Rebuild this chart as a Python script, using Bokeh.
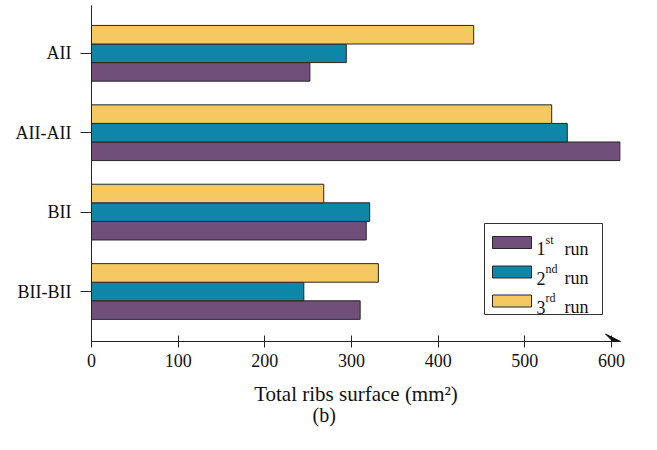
from bokeh.plotting import figure
from bokeh.models import FixedTicker, Range1d, Label, VeeHead, Arrow, ColumnDataSource, Title
from bokeh.embed import file_html
from bokeh.resources import INLINE

# ---------------- data ----------------
categories = ["BII-BII", "BII", "AII-AII", "AII"]
run1 = [310, 317, 610, 252]
run2 = [245, 321, 549, 294]
run3 = [331, 268, 531, 441]
run_numbers = ["1", "2", "3"]
run_sups = ["st", "nd", "rd"]
x_ticks = [0, 100, 200, 300, 400, 500, 600]
x_title = "Total ribs surface (mm\u00b2)"
caption = "(b)"

# ---------------- style ----------------
colors = ["#704F7A", "#0E86A8", "#F6C862"]
edge = "#262626"
serif = "Liberation Serif"

W, H = 649, 442
FL, FR, FT, FB = 91, 620, 5, 341          # frame edges in figure pixels
X0, X1 = 0, 610.4
PX_PER_CAT = 79.4
Y0 = -(FB - 291) / PX_PER_CAT
Y1 = Y0 + (FB - FT) / PX_PER_CAT
BAR_H = 0.234

p = figure(width=W, height=H, output_backend="svg", toolbar_location=None,
           x_range=Range1d(X0, X1), y_range=Range1d(Y0, Y1),
           min_border_left=FL, min_border_right=W - FR,
           min_border_top=FT, min_border_bottom=H - FB)
p.outline_line_color = None
p.grid.grid_line_color = None
p.background_fill_color = "white"
p.border_fill_color = "white"

ypos = list(range(len(categories)))
src = ColumnDataSource(dict(y=ypos, r1=run1, r2=run2, r3=run3,
                            y1=[v - BAR_H for v in ypos],
                            y3=[v + BAR_H for v in ypos]))
p.hbar(y="y1", left=0, right="r1", height=BAR_H, source=src,
       fill_color=colors[0], line_color=edge, line_width=1)
p.hbar(y="y", left=0, right="r2", height=BAR_H, source=src,
       fill_color=colors[1], line_color=edge, line_width=1)
p.hbar(y="y3", left=0, right="r3", height=BAR_H, source=src,
       fill_color=colors[2], line_color=edge, line_width=1)

# axes
xa = p.xaxis[0]
xa.ticker = FixedTicker(ticks=x_ticks)
xa.minor_tick_line_color = None
xa.major_tick_in = 6
xa.major_tick_out = 6
xa.axis_line_color = "#222222"
xa.major_tick_line_color = "#222222"
xa.major_label_text_font = serif
xa.major_label_text_font_size = "18px"
xa.major_label_text_color = "#111111"
xa.major_label_standoff = 6
xa.axis_label = x_title
xa.axis_label_text_font = serif
xa.axis_label_text_font_style = "normal"
xa.axis_label_text_font_size = "21px"
xa.axis_label_text_color = "#111111"
xa.axis_label_standoff = 12

ya = p.yaxis[0]
ya.ticker = FixedTicker(ticks=ypos)
ya.major_label_overrides = {i: c for i, c in zip(ypos, categories)}
ya.minor_tick_line_color = None
ya.major_tick_in = 0
ya.major_tick_out = 11
ya.axis_line_color = "#222222"
ya.major_tick_line_color = "#222222"
ya.major_label_text_font = serif
ya.major_label_text_font_size = "18px"
ya.major_label_text_color = "#111111"
ya.major_label_standoff = 9

# arrow head at the end of the x axis
p.add_layout(Arrow(end=VeeHead(size=15, fill_color="#111111", line_color="#111111"),
                   x_start=X1 - 20, y_start=Y0, x_end=X1, y_end=Y0,
                   line_color="#222222", line_width=1))

# pixel -> data helpers
def dx(px):
    return X0 + (px - FL) * (X1 - X0) / (FR - FL)

def dy(py):
    return Y0 + (FB - py) / PX_PER_CAT

# manual legend
p.quad(left=[dx(484)], right=[dx(602)], top=[dy(223)], bottom=[dy(314)],
       fill_color="white", line_color="#333333", line_width=1)
rows = [242, 271.5, 300.5]
for i, cy in enumerate(rows):
    p.quad(left=[dx(492)], right=[dx(531)], top=[dy(cy - 6)], bottom=[dy(cy + 6)],
           fill_color=colors[i], line_color=edge, line_width=1)
    p.add_layout(Label(x=dx(536), y=dy(cy + 6), text=run_numbers[i],
                       text_font=serif, text_font_size="18px", text_color="#111111",
                       text_baseline="alphabetic"))
    p.add_layout(Label(x=dx(545), y=dy(cy - 3), text=run_sups[i],
                       text_font=serif, text_font_size="12px", text_color="#111111",
                       text_baseline="alphabetic"))
    p.add_layout(Label(x=dx(564), y=dy(cy + 6), text="run",
                       text_font=serif, text_font_size="18px", text_color="#111111",
                       text_baseline="alphabetic"))

# caption below the axis title
p.add_layout(Title(text=caption, align="left", offset=221, standoff=-13,
                   text_font=serif, text_font_size="20px",
                   text_font_style="normal", text_color="#111111"), "below")

open("out.html", "w").write(file_html(p, INLINE))
